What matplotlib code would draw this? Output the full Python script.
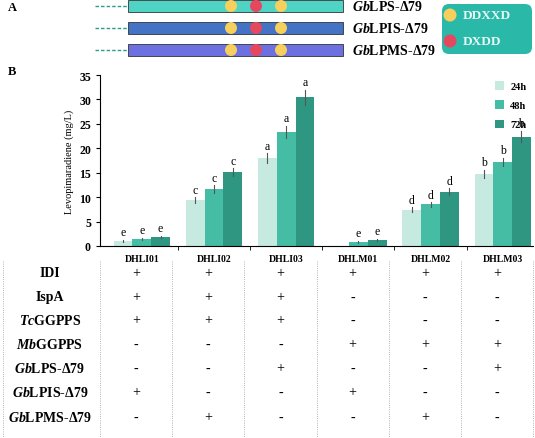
import matplotlib
matplotlib.use("Agg")
import matplotlib.pyplot as plt
from matplotlib.patches import Rectangle, FancyBboxPatch, Ellipse
import numpy as np

plt.rcParams['font.family'] = ['Liberation Serif', 'DejaVu Serif']
plt.rcParams['font.weight'] = 'bold'
plt.rcParams['mathtext.fontset'] = 'custom'
plt.rcParams['mathtext.it'] = 'Liberation Serif:italic:bold'
plt.rcParams['mathtext.rm'] = 'Liberation Serif:bold'

strains = ["DHLI01", "DHLI02", "DHLI03", "DHLM01", "DHLM02", "DHLM03"]
times = ["24h", "48h", "72h"]
v24 = [1.1, 9.4, 18.0, 0.0, 7.4, 14.8]
v48 = [1.5, 11.6, 23.4, 0.9, 8.5, 17.2]
v72 = [1.9, 15.1, 30.4, 1.3, 11.1, 22.4]
e24 = [0.2, 0.6, 1.0, 0.0, 0.5, 0.8]
e48 = [0.2, 0.8, 1.2, 0.2, 0.5, 0.9]
e72 = [0.2, 0.8, 1.6, 0.2, 0.7, 1.2]
l24 = ["e", "c", "a", "", "d", "b"]
l48 = ["e", "c", "a", "e", "d", "b"]
l72 = ["e", "c", "a", "e", "d", "b"]
genes = ["IDI", "IspA", r"$\mathit{Tc}$GGPPS", r"$\mathit{Mb}$GGPPS",
         r"$\mathit{Gb}$LPS-Δ79", r"$\mathit{Gb}$LPIS-Δ79", r"$\mathit{Gb}$LPMS-Δ79"]
table = [
    ["+", "+", "+", "+", "+", "+"],
    ["+", "+", "+", "-", "-", "-"],
    ["+", "+", "+", "-", "-", "-"],
    ["-", "-", "-", "+", "+", "+"],
    ["-", "-", "+", "-", "-", "+"],
    ["+", "-", "-", "+", "-", "-"],
    ["-", "+", "-", "-", "+", "-"],
]
enzymes = [r"$\mathit{Gb}$LPS-Δ79", r"$\mathit{Gb}$LPIS-Δ79", r"$\mathit{Gb}$LPMS-Δ79"]
enz_colors = ["#4fd3c4", "#4472c4", "#6c70e0"]

W, H = 535, 439
fig = plt.figure(figsize=(W/100, H/100), dpi=100)
ov = fig.add_axes([0, 0, 1, 1])
ov.set_xlim(0, W); ov.set_ylim(H, 0); ov.axis('off')

# Panel A
ov.text(8, 8, "A", fontsize=9, va='center')
for i, (name, c) in enumerate(zip(enzymes, enz_colors)):
    yc = 7 + i*22
    ov.plot([95, 128], [yc, yc], ls=(0, (2.5, 1.5)), color="#2a9d8f", lw=1)
    ov.add_patch(Rectangle((128, yc-6), 215, 12, facecolor=c, edgecolor='#333333', lw=0.6))
    for xx, col in [(231, "#f6cf5c"), (256, "#e5475e"), (281, "#f6cf5c")]:
        ov.add_patch(Ellipse((xx, yc), 12, 12, facecolor=col, edgecolor='none'))
    ov.text(352, yc, name, fontsize=10, va='center')
ov.add_patch(FancyBboxPatch((442, 5), 90, 50, boxstyle="round,pad=0,rounding_size=7",
                            facecolor="#2ab9a8", edgecolor='none'))
ov.add_patch(Ellipse((450, 16), 13, 13, facecolor="#f6cf5c"))
ov.add_patch(Ellipse((450, 42), 13, 13, facecolor="#e5475e"))
ov.text(463, 16, "DDXXD", fontsize=9.5, color='#e8f8f5', va='center')
ov.text(463, 42, "DXDD", fontsize=9.5, color='#e8f8f5', va='center')
ov.text(8, 72, "B", fontsize=9, va='center')

# Panel B chart
ax = fig.add_axes([100/W, 1-247/H, 433/W, (247-76)/H])
x = np.arange(len(strains))
w = 0.26
cols = ["#c6e9e0", "#45bca4", "#2f9682"]
for k, (vals, errs, labs) in enumerate([(v24, e24, l24), (v48, e48, l48), (v72, e72, l72)]):
    xs = x + (k-1)*w
    ax.bar(xs, vals, w, color=cols[k], label=times[k])
    for xi, v, e, lab in zip(xs, vals, errs, labs):
        if v > 0:
            ax.plot([xi, xi], [v-e, v+e], color='#555555', lw=0.8)
        if lab:
            ax.text(xi, v+e+0.3, lab, ha='center', va='bottom', fontsize=8.5, fontweight='normal')
ax.set_xlim(-0.58, 5.42)
ax.set_ylim(0, 35)
ax.set_yticks(range(0, 36, 5))
ax.tick_params(axis='y', labelsize=8.5, length=3)
ax.set_xticks(x)
ax.set_xticklabels(strains, fontsize=7)
ax.tick_params(axis='x', length=0, pad=6)
ax.set_xticks(np.arange(0.5, 5, 1), minor=True)
ax.tick_params(axis='x', which='minor', length=3)
for s in ['top', 'right']:
    ax.spines[s].set_visible(False)
ax.set_ylabel("Levopimaradiene (mg/L)", fontsize=7.5)
ax.legend(loc='upper left', frameon=False, fontsize=7.5, handlelength=0.9, handleheight=0.9,
          labelspacing=0.9, handletextpad=0.6, bbox_to_anchor=(0.89, 1.02))

# Table
colx = [100 + (i+0.5)*72.2 for i in range(6)]
rowy = [274, 298, 321, 345, 369, 393, 418]
for g, row, yy in zip(genes, table, rowy):
    ov.text(50, yy, g, fontsize=10, ha='center', va='center')
    for cx, s in zip(colx, row):
        ov.text(cx, yy, s, fontsize=10, ha='center', va='center', fontweight='normal')
for vx in [3, 100, 172, 244, 317, 389, 461, 533]:
    ov.plot([vx, vx], [262, 439], ls=':', color='#999999', lw=0.6)

fig.savefig("out.png", dpi=100)
